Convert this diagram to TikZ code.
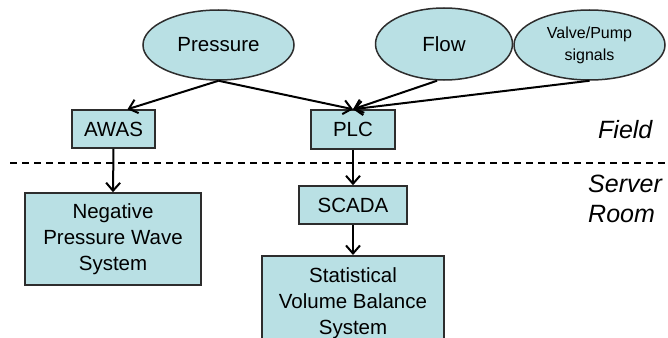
\documentclass[tikz,border=0pt]{standalone}
\usepackage{fontspec}
\setmainfont{Liberation Sans}
\usetikzlibrary{shapes.geometric,arrows.meta,calc}
\definecolor{boxfill}{RGB}{185,224,228}
\definecolor{boxline}{RGB}{45,45,45}
\tikzset{
  sig/.style={ellipse,draw=boxline,fill=boxfill,line width=1.5pt,inner sep=0pt,align=center,font=\fontsize{20.5}{24}\selectfont},
  unit/.style={rectangle,draw=boxline,fill=boxfill,line width=1.5pt,inner sep=0pt,align=center,font=\fontsize{20.5}{26}\selectfont},
  conn/.style={line width=2pt,-{Straight Barb[length=8pt,width=14pt,line width=2pt]}},
  zone/.style={font=\fontsize{25}{30}\selectfont\itshape,align=left,inner sep=0pt,anchor=north west}
}
\begin{document}
\begin{tikzpicture}[x=1pt,y=-1pt]
\useasboundingbox (0,0) rectangle (668,337);
\clip (0,0) rectangle (668,337);
\fill[white] (0,0) rectangle (668,337);
\node[sig,minimum width=151pt,minimum height=70pt] (press) at (218.5,45) {Pressure};
\node[sig,minimum width=137pt,minimum height=72pt] (flow) at (444,44) {Flow};
\node[sig,minimum width=151pt,minimum height=70pt,font=\fontsize{16}{22}\selectfont] (valve) at (589.5,45) {Valve/Pump\\signals};
\node[unit,minimum width=83pt,minimum height=38pt] (awas) at (113.5,129) {AWAS};
\node[unit,minimum width=84pt,minimum height=39pt] (plc) at (353,129.5) {PLC};
\node[unit,minimum width=176pt,minimum height=92pt] (npw) at (113,239) {Negative\\Pressure Wave\\System};
\node[unit,minimum width=108pt,minimum height=38pt] (scada) at (353,205) {SCADA};
\node[unit,minimum width=182pt,minimum height=94pt,anchor=north] (svb) at (353,255) {Statistical\\Volume Balance\\System};
\coordinate (dl) at (10,163);
\coordinate (dr) at (668,163);
\draw[line width=1.2pt,dash pattern=on 7pt off 5pt] (dl) -- (dr);
\node[zone] (field) at (598,120) {Field};
\node[zone] (server) at (588,175) {Server\\Room};
\draw[conn] (press.south) -- ($(awas.north)+(14,0)$);
\draw[conn] (press.south) -- (plc.north);
\draw[conn] ($(flow.south)+(-7,0)$) -- (plc.north);
\draw[conn] (valve.south) -- (plc.north);
\draw[conn] (awas.south) -- (npw.north);
\draw[conn] (plc.south) -- (scada.north);
\draw[conn] (scada.south) -- (svb.north);
\end{tikzpicture}
\end{document}
